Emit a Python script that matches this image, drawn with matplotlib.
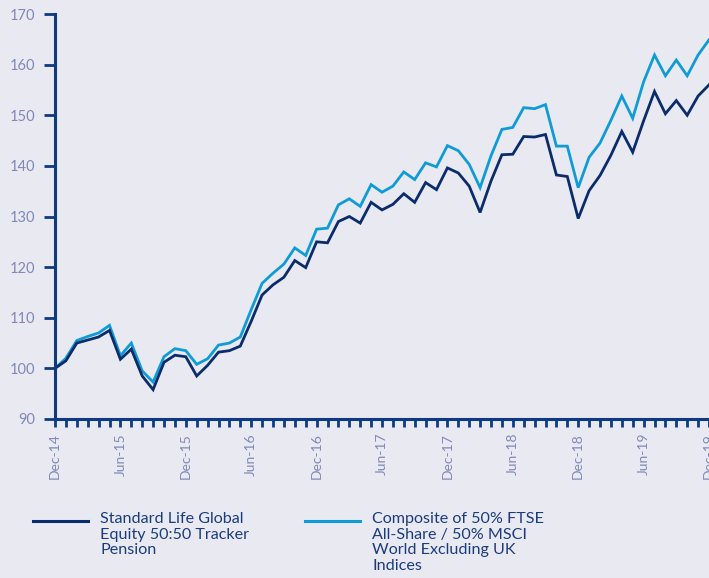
import numpy as np
import matplotlib
matplotlib.use('Agg')
import matplotlib.pyplot as plt
from matplotlib.lines import Line2D

# monthly index values, Dec-14 .. Dec-19
tick_labels = ['Dec-14', 'Jun-15', 'Dec-15', 'Jun-16', 'Dec-16', 'Jun-17',
               'Dec-17', 'Jun-18', 'Dec-18', 'Jun-19', 'Dec-19']

fund = [100.0, 101.5, 105.0, 105.6, 106.2, 107.5, 101.8, 103.8, 98.5, 95.8,
        101.2, 102.6, 102.3, 98.5, 100.6, 103.2, 103.5, 104.4, 109.3, 114.5,
        116.5, 118.0, 121.3, 119.9, 125.0, 124.8, 129.0, 130.0, 128.7, 132.8,
        131.3, 132.4, 134.5, 132.8, 136.7, 135.3, 139.6, 138.6, 136.0, 130.8,
        137.0, 142.2, 142.3, 145.8, 145.7, 146.2, 138.2, 137.9, 129.6, 135.1,
        138.1, 142.1, 146.8, 142.7, 148.9, 154.7, 150.3, 152.9, 150.0, 153.8,
        156.0]

composite = [100.0, 102.0, 105.5, 106.3, 107.0, 108.5, 102.5, 105.0, 99.5, 97.3,
             102.3, 103.9, 103.5, 100.8, 101.9, 104.6, 105.0, 106.2, 111.6, 116.8,
             118.8, 120.6, 123.8, 122.3, 127.5, 127.7, 132.3, 133.5, 132.0, 136.3,
             134.8, 136.0, 138.8, 137.3, 140.6, 139.8, 144.0, 143.0, 140.3, 135.7,
             142.0, 147.2, 147.6, 151.5, 151.3, 152.1, 143.9, 143.9, 135.7, 141.7,
             144.5, 149.0, 153.8, 149.4, 156.6, 161.9, 157.8, 160.9, 157.8, 161.9,
             164.9]

fund_label = 'Standard Life Global\nEquity 50:50 Tracker\nPension'
comp_label = 'Composite of 50% FTSE\nAll-Share / 50% MSCI\nWorld Excluding UK\nIndices'

bg = '#E9E9F1'
navy = '#0B2C6A'
light = '#0E9BD6'
axis_col = '#0D3A80'
lab_col = '#7F89B8'
leg_col = '#1B3C7C'

plt.rcParams['font.family'] = ['Lato', 'DejaVu Sans']

fig = plt.figure(figsize=(7.09, 5.78), dpi=100, facecolor=bg)
ax = fig.add_axes([55 / 709, 159 / 578, 654 / 709, 405 / 578], facecolor=bg)

x = np.arange(len(fund))
ax.plot(x, composite, color=light, lw=2.0, solid_joinstyle='miter')
ax.plot(x, fund, color=navy, lw=2.0, solid_joinstyle='miter')

ax.set_xlim(0, 60)
ax.set_ylim(90, 170)
ax.set_yticks(np.arange(90, 171, 10))
ax.set_xticks(x)
xl = ['' for _ in x]
for i, t in enumerate(tick_labels):
    xl[i * 6] = t
ax.set_xticklabels(xl, rotation=90, fontsize=10, color=lab_col)
ax.tick_params(axis='y', labelsize=10.5, labelcolor=lab_col, color=axis_col,
               length=8, width=2, pad=6)
ax.tick_params(axis='x', color=axis_col, length=6, width=2, pad=4)

for s in ['top', 'right']:
    ax.spines[s].set_visible(False)
for s in ['left', 'bottom']:
    ax.spines[s].set_color(axis_col)
    ax.spines[s].set_linewidth(2.2)

# legend below the chart
def fx(px):
    return px / 709

def fy(py):
    return 1 - py / 578

fig.add_artist(Line2D([fx(33), fx(88)], [fy(521), fy(521)], color=navy, lw=2.2))
fig.text(fx(100), fy(512), fund_label, color=leg_col, fontsize=11.6,
         va='top', ha='left', linespacing=1.15)
fig.add_artist(Line2D([fx(305), fx(360)], [fy(521), fy(521)], color=light, lw=2.2))
fig.text(fx(372), fy(512), comp_label, color=leg_col, fontsize=11.6,
         va='top', ha='left', linespacing=1.15)

fig.savefig('out.png', dpi=100, facecolor=bg)
